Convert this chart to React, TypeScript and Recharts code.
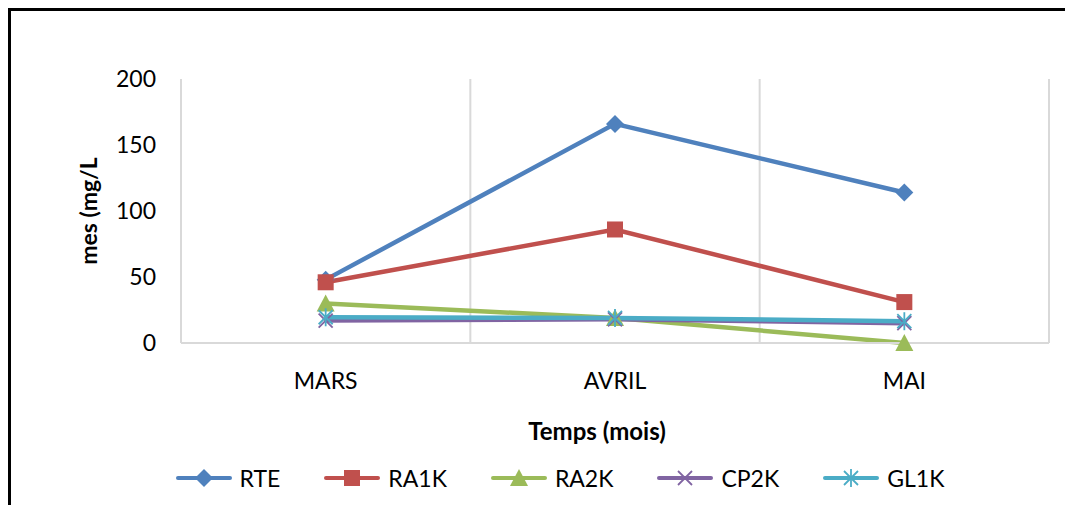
import { LineChart, Line, XAxis, YAxis, ReferenceLine, Legend } from 'recharts'

const categories = ['MARS', 'AVRIL', 'MAI']
const rte = [48, 166, 114]
const ra1k = [46, 86, 31]
const ra2k = [30, 19, 0]
const cp2k = [17, 18, 15]
const gl1k = [19.5, 19, 16.5]
const yTicks = [0, 50, 100, 150, 200]

const FONT = 'Lato, "Open Sans", sans-serif'
const GRID = '#d9d9d9'

type Shape = 'diamond' | 'square' | 'triangle' | 'x' | 'star'

const series: { key: string; values: number[]; color: string; shape: Shape }[] = [
  { key: 'RTE', values: rte, color: '#4f81bd', shape: 'diamond' },
  { key: 'RA1K', values: ra1k, color: '#c0504d', shape: 'square' },
  { key: 'RA2K', values: ra2k, color: '#9bbb59', shape: 'triangle' },
  { key: 'CP2K', values: cp2k, color: '#8064a2', shape: 'x' },
  { key: 'GL1K', values: gl1k, color: '#4bacc6', shape: 'star' },
]

const data = categories.map((name, i) => {
  const row: Record<string, number | string> = { x: i + 0.5, name }
  series.forEach((s) => { row[s.key] = s.values[i] })
  return row
})

function Marker({ cx, cy, color, shape }: { cx: number; cy: number; color: string; shape: Shape }) {
  const r = 8
  switch (shape) {
    case 'diamond':
      return <path d={`M${cx},${cy - r - 1}L${cx + r + 1},${cy}L${cx},${cy + r + 1}L${cx - r - 1},${cy}Z`} fill={color} />
    case 'square':
      return <rect x={cx - r} y={cy - r} width={2 * r} height={2 * r} fill={color} />
    case 'triangle':
      return <path d={`M${cx},${cy - r - 1}L${cx + r + 1},${cy + r}L${cx - r - 1},${cy + r}Z`} fill={color} />
    case 'x':
      return (
        <g stroke={color} strokeWidth={1.8}>
          <line x1={cx - 7} y1={cy - 7} x2={cx + 7} y2={cy + 7} />
          <line x1={cx - 7} y1={cy + 7} x2={cx + 7} y2={cy - 7} />
        </g>
      )
    default:
      return (
        <g stroke={color} strokeWidth={1.8}>
          <line x1={cx - 7} y1={cy - 7} x2={cx + 7} y2={cy + 7} />
          <line x1={cx - 7} y1={cy + 7} x2={cx + 7} y2={cy - 7} />
          <line x1={cx} y1={cy - 9} x2={cx} y2={cy + 9} />
        </g>
      )
  }
}

function LegendContent() {
  return (
    <div style={{ display: 'flex', justifyContent: 'center', alignItems: 'center', gap: 44, fontFamily: FONT, fontSize: 23, color: '#000', height: 30, paddingLeft: 60 }}>
      {series.map((s) => (
        <div key={s.key} style={{ display: 'flex', alignItems: 'center', gap: 8 }}>
          <svg width={56} height={20}>
            <line x1={2} y1={10} x2={54} y2={10} stroke={s.color} strokeWidth={4} strokeLinecap="round" />
            <Marker cx={28} cy={10} color={s.color} shape={s.shape} />
          </svg>
          <span>{s.key}</span>
        </div>
      ))}
    </div>
  )
}

export default function App() {
  return (
    <div style={{ width: 1065, height: 505, marginBottom: -8, borderTop: '3px solid #000', borderLeft: '3px solid #000', boxSizing: 'border-box', background: '#fff' }}>
      <LineChart width={1062} height={502} data={data} margin={{ top: 68, right: 24, left: 0, bottom: 20 }}>
        <XAxis
          dataKey="x"
          type="number"
          domain={[0, 3]}
          ticks={[0.5, 1.5, 2.5]}
          tickFormatter={(v: number) => categories[Math.floor(v)]}
          tick={{ fontSize: 23, fill: '#000', fontFamily: FONT }}
          tickLine={false}
          tickSize={0}
          tickMargin={30}
          axisLine={{ stroke: GRID, strokeWidth: 2 }}
          height={120}
          label={{
            content: ({ viewBox }: any) => (
              <text x={viewBox.x + viewBox.width / 2 - 18} y={419} textAnchor="middle" dominantBaseline="central"
                fontFamily={FONT} fontSize={24} fontWeight="bold" fill="#000">Temps (mois)</text>
            ),
          }}
        />
        <YAxis
          domain={[0, 200]}
          ticks={yTicks}
          tick={{ fontSize: 23, fill: '#000', fontFamily: FONT }}
          tickLine={false}
          tickSize={0}
          tickMargin={25}
          axisLine={false}
          width={170}
          label={{
            content: ({ viewBox }: any) => {
              const cx = 77
              const cy = viewBox.y + viewBox.height / 2
              return (
                <text x={cx} y={cy} transform={`rotate(-90 ${cx} ${cy})`} textAnchor="middle" dominantBaseline="central"
                  fontFamily={FONT} fontSize={23} fontWeight="bold" fill="#000">mes (mg/L</text>
              )
            },
          }}
        />
        {[0, 1, 2, 3].map((x) => (
          <ReferenceLine key={x} x={x} stroke={GRID} strokeWidth={2} />
        ))}
        <Legend verticalAlign="bottom" height={30} content={() => <LegendContent />} />
        {series.map((s) => (
          <Line
            key={s.key}
            dataKey={s.key}
            type="linear"
            stroke={s.color}
            strokeWidth={4.5}
            isAnimationActive={false}
            dot={(p: any) => <Marker key={`${s.key}-${p.index}`} cx={p.cx} cy={p.cy} color={s.color} shape={s.shape} />}
            activeDot={false}
          />
        ))}
      </LineChart>
    </div>
  )
}
